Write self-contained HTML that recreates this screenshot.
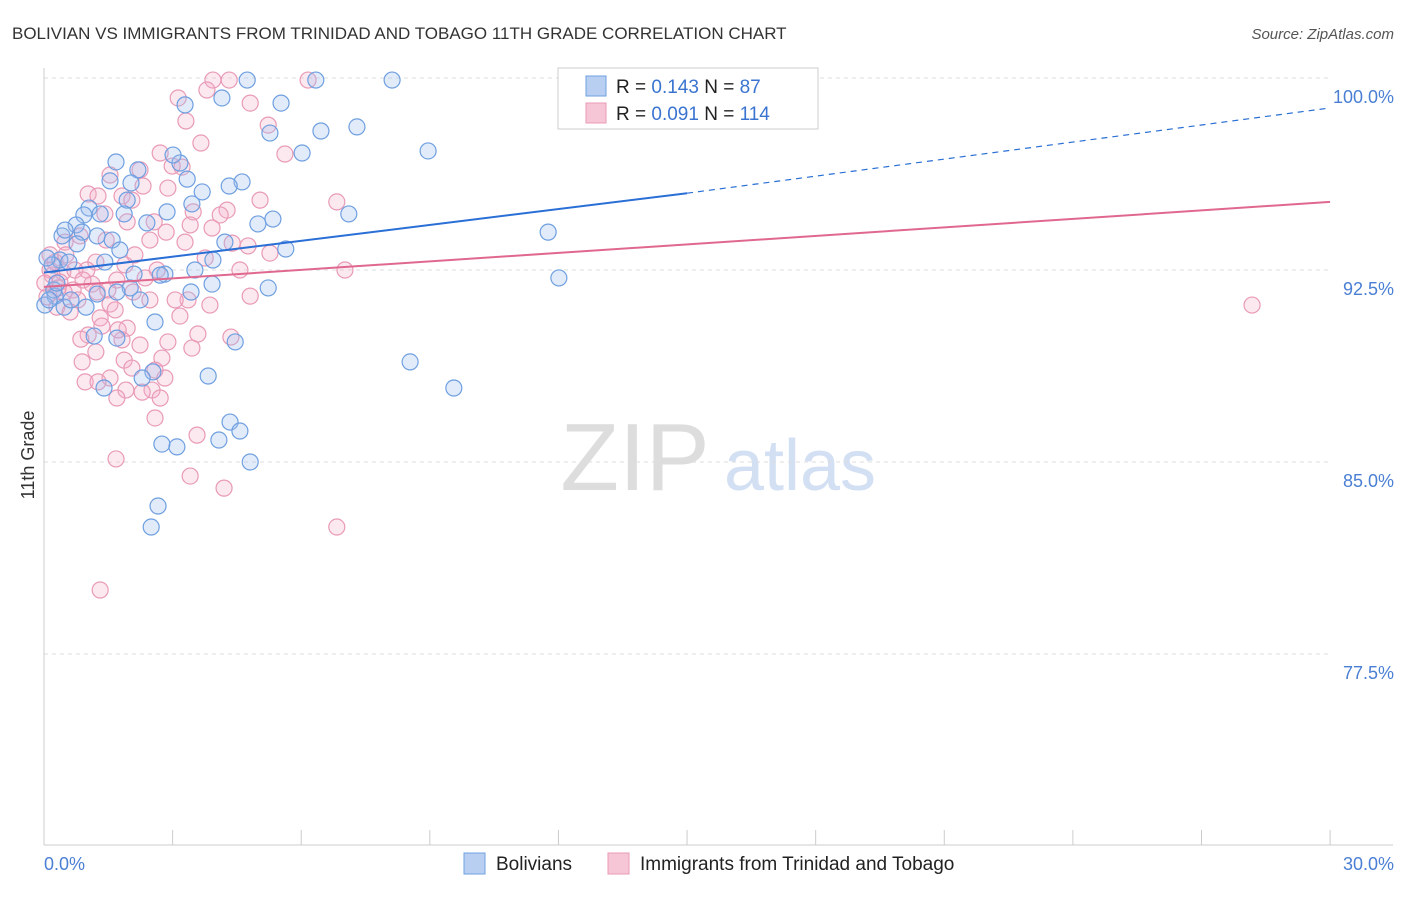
<!DOCTYPE html>
<html><head><meta charset="utf-8">
<style>
body{margin:0;background:#fff;font-family:"Liberation Sans",sans-serif;}
svg text{font-family:"Liberation Sans",sans-serif;}
</style></head>
<body>
<svg id="chart" width="1406" height="892">
<text x="12" y="39" font-size="17" fill="#333">BOLIVIAN VS IMMIGRANTS FROM TRINIDAD AND TOBAGO 11TH GRADE CORRELATION CHART</text>
<text x="1394" y="39" font-size="15" fill="#555" text-anchor="end" font-style="italic">Source: ZipAtlas.com</text>
<g>
<text x="635" y="490" font-size="96" fill="#ddd" text-anchor="middle" font-family="Liberation Serif">ZIP</text>
<text x="800" y="490" font-size="72" fill="#d3e0f3" text-anchor="middle">atlas</text>
</g>
<g id="grid"></g>
<g id="axes"></g>
<g id="pts"></g>
<g id="lines"></g>
<text transform="translate(34,455) rotate(-90)" font-size="18" fill="#333" text-anchor="middle">11th Grade</text>
<text x="44" y="870" font-size="18" fill="#4a7fd4">0.0%</text>
<text x="1394" y="870" font-size="18" fill="#4a7fd4" text-anchor="end">30.0%</text>
<g>
<rect x="558" y="68" width="260" height="61" fill="#fff" stroke="#ccc"/>
<rect x="586" y="76" width="20" height="20" fill="#b8cff2" stroke="#6fa0e0"/>
<rect x="586" y="103" width="20" height="20" fill="#f7c6d6" stroke="#e89ab5"/>
<text x="616" y="93" font-size="19" fill="#222">R = <tspan fill="#3a74d0">0.143</tspan>   N = <tspan fill="#3a74d0"> 87</tspan></text>
<text x="616" y="120" font-size="19" fill="#222">R = <tspan fill="#3a74d0">0.091</tspan>   N = <tspan fill="#3a74d0">114</tspan></text>
</g>
<g>
<rect x="464" y="853" width="21" height="21" fill="#b8cff2" stroke="#6fa0e0"/>
<text x="496" y="870" font-size="19" fill="#222">Bolivians</text>
<rect x="608" y="853" width="21" height="21" fill="#f7c6d6" stroke="#e89ab5"/>
<text x="640" y="870" font-size="19" fill="#222">Immigrants from Trinidad and Tobago</text>
</g>
</svg>
<script>
const yTicks=[100,92.5,85,77.5];
const yTickLabels=["100.0%","92.5%","85.0%","77.5%"];
const xTicks=[0,3,6,9,12,15,18,21,24,27,30];
const bluePx=[[247,80],[392,80],[316,80],[222,98],[185,105],[281,103],[357,127],[321,131],[270,133],[428,151],[302,153],[116,162],[180,163],[173,155],[138,170],[110,181],[131,183],[187,179],[242,182],[229,186],[202,192],[127,200],[89,208],[84,215],[100,214],[124,214],[167,212],[192,204],[273,219],[258,224],[349,214],[147,223],[76,225],[62,236],[97,236],[112,240],[82,232],[77,244],[548,232],[225,242],[286,249],[213,260],[60,260],[52,265],[69,262],[105,262],[165,274],[195,270],[134,274],[559,278],[268,288],[212,284],[191,292],[130,288],[117,292],[97,294],[55,296],[64,307],[86,307],[45,305],[155,322],[117,338],[94,336],[235,342],[410,362],[454,388],[208,376],[153,372],[142,378],[104,388],[230,422],[240,431],[219,440],[162,444],[177,447],[250,462],[158,506],[151,527],[47,258],[54,290],[49,300],[57,283],[71,300],[160,275],[65,230],[120,250],[140,300]];
const pinkPx=[[213,80],[229,80],[308,80],[178,98],[207,90],[250,103],[186,121],[268,125],[201,143],[285,154],[160,153],[182,167],[140,170],[172,166],[110,175],[143,186],[168,188],[88,194],[98,196],[122,196],[132,200],[337,202],[227,210],[193,212],[105,214],[154,222],[127,222],[212,228],[166,232],[232,243],[65,242],[80,236],[106,240],[185,242],[248,246],[270,253],[96,262],[125,265],[63,272],[87,270],[117,280],[157,270],[145,278],[345,270],[52,275],[60,282],[73,290],[97,292],[133,292],[188,300],[210,305],[57,307],[70,312],[110,304],[250,296],[1252,305],[180,316],[100,318],[127,328],[102,326],[88,335],[198,334],[81,339],[122,340],[231,337],[168,342],[192,348],[96,352],[124,360],[162,358],[82,362],[155,370],[132,368],[110,378],[85,382],[165,378],[98,382],[126,390],[152,390],[160,398],[117,398],[155,418],[197,435],[116,459],[190,476],[224,488],[337,527],[100,590],[50,270],[55,262],[47,297],[64,292],[58,288],[75,270],[45,283],[50,255],[92,284],[115,310],[140,345],[175,300],[205,258],[240,270],[78,300],[66,255],[83,280],[108,290],[135,255],[150,240],[190,225],[220,215],[260,200],[150,300],[118,330],[142,392]];
// convert read pixel positions to data values (percent)
const blueX=bluePx.map(p=>+((p[0]-44)/42.87).toFixed(2));
const blueY=bluePx.map(p=>+(100-(p[1]-78)/25.6).toFixed(2));
const pinkX=pinkPx.map(p=>+((p[0]-44)/42.87).toFixed(2));
const pinkY=pinkPx.map(p=>+(100-(p[1]-78)/25.6).toFixed(2));
const blueTrend=[92.4,95.5,98.83];
const pinkTrend=[91.84,95.16];

const X=v=>44+v*42.87, Y=v=>78+(100-v)*25.6;
const NS="http://www.w3.org/2000/svg";
function mk(t,a,p){const e=document.createElementNS(NS,t);for(const k in a)e.setAttribute(k,a[k]);p.appendChild(e);return e;}
const grid=document.getElementById('grid'),axes=document.getElementById('axes'),pts=document.getElementById('pts'),lines=document.getElementById('lines');
yTicks.forEach((v,i)=>{
 const l=mk('line',{x1:44,x2:1330,y1:Y(v),y2:Y(v),stroke:'#ddd','stroke-dasharray':'4,4'},grid);
 
 
 const t=mk('text',{x:1394,y:Y(v)+25,'font-size':18,fill:'#4a7fd4','text-anchor':'end'},grid);
 t.textContent=yTickLabels[i];
 
 
});
const ya=mk('line',{x1:44,x2:44,y1:68,y2:845,stroke:'#ccc'},axes);


const xa=mk('line',{x1:44,x2:1393,y1:845,y2:845,stroke:'#ccc'},axes);


xTicks.forEach(v=>{
 const t=mk('line',{x1:X(v),x2:X(v),y1:830,y2:845,stroke:'#ccc'},axes);
 
 
});
function dots(xs,ys,fill,stroke,name){xs.forEach((x,i)=>{
 const c=mk('circle',{cx:X(x),cy:Y(ys[i]),r:8,fill:fill,stroke:stroke,'stroke-width':1.2},pts);
 
 
});}
dots(pinkX,pinkY,'rgba(245,175,200,0.28)','#e99ab6','point-trinidad');
dots(blueX,blueY,'rgba(160,190,240,0.3)','#6e9fe0','point-bolivian');
const b1=mk('line',{x1:X(0),y1:Y(blueTrend[0]),x2:X(15),y2:Y(blueTrend[1]),stroke:'#2a6fd6','stroke-width':2},lines);


const b2=mk('line',{x1:X(15),y1:Y(blueTrend[1]),x2:X(30),y2:Y(blueTrend[2]),stroke:'#2a6fd6','stroke-width':1.2,'stroke-dasharray':'6,5'},lines);


const p1=mk('line',{x1:X(0),y1:Y(pinkTrend[0]),x2:X(30),y2:Y(pinkTrend[1]),stroke:'#e0688f','stroke-width':2},lines);


</script>
</body></html>
